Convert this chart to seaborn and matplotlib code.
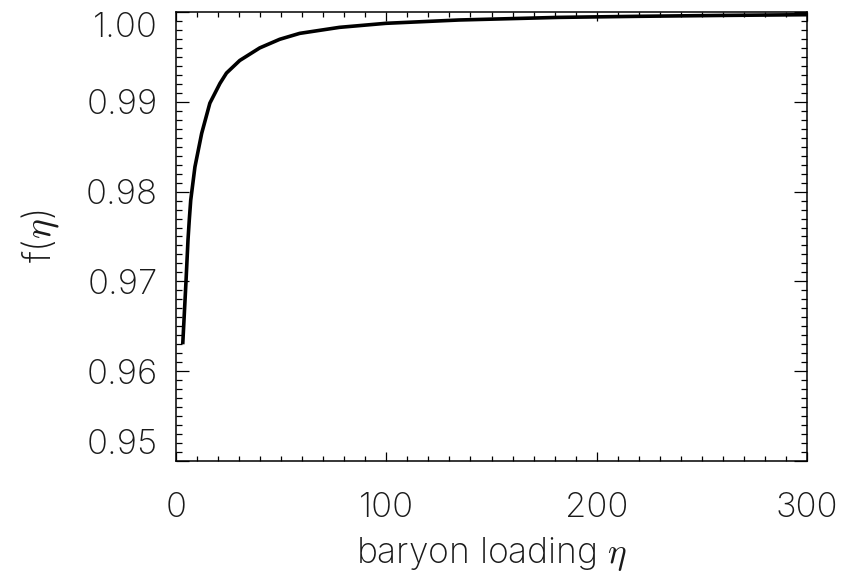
import matplotlib
matplotlib.use("Agg")
import matplotlib.pyplot as plt
from matplotlib.ticker import MultipleLocator, FixedLocator
import seaborn as sns
import pandas as pd

# Baryon loading values and the corresponding f(eta)
eta = [3.2, 4.74, 5.7, 6.3, 7.0, 9.0, 12.2, 16.1, 20.9, 24.0, 30.3, 39.8,
       49.3, 58.8, 77.7, 99.8, 134.6, 182.0, 220.0, 260.0, 300.0]
f_eta = [0.9630, 0.96994, 0.9746, 0.9768, 0.97904, 0.98275, 0.98648, 0.98985,
         0.99205, 0.9932, 0.99460, 0.99600, 0.99696, 0.99762, 0.99829, 0.99874,
         0.99911, 0.99940, 0.99952, 0.99962, 0.99970]

x_ticks = [0, 100, 200, 300]
x_tick_labels = ["0", "100", "200", "300"]
y_ticks = [0.95, 0.96, 0.97, 0.98, 0.99, 1.00]
y_tick_labels = ["0.95", "0.96", "0.97", "0.98", "0.99", "1.00"]

sns.set_theme(style="ticks")
plt.rcParams["font.family"] = ["Inter", "DejaVu Sans"]
plt.rcParams["font.weight"] = 200
plt.rcParams["mathtext.fontset"] = "cm"

df = pd.DataFrame({"eta": eta, "f": f_eta})

fig = plt.figure(figsize=(8.47, 5.75), dpi=100)
ax = fig.add_axes([176 / 847, 1 - 461 / 575, 631 / 847, 449 / 575])

sns.lineplot(data=df, x="eta", y="f", ax=ax, color="black", linewidth=2.6,
             sort=True, estimator=None)
for line in ax.get_lines():
    line.set_solid_joinstyle("round")
    line.set_solid_capstyle("butt")

ax.set_xlim(0, 300)
ax.set_ylim(0.95, 1.00)

ax.xaxis.set_major_locator(FixedLocator(x_ticks))
ax.xaxis.set_minor_locator(MultipleLocator(10))
ax.yaxis.set_major_locator(FixedLocator(y_ticks))
ax.yaxis.set_minor_locator(MultipleLocator(0.001))
ax.set_xticklabels(x_tick_labels)
ax.set_yticklabels(y_tick_labels)

text_color = "#1a1a1a"
ax.tick_params(axis="both", which="both", direction="in", top=True, right=True,
               color="black", width=0.9)
ax.tick_params(axis="x", which="major", length=6.5, pad=22, labelsize=25,
               labelcolor=text_color)
ax.tick_params(axis="x", which="minor", length=3.3)
ax.tick_params(axis="y", which="major", length=9.4, pad=13, labelsize=25,
               labelcolor=text_color)
ax.tick_params(axis="y", which="minor", length=4.5)

for lab in ax.get_xticklabels() + ax.get_yticklabels():
    lab.set_fontweight(200)

# keep the end labels of the y axis inside the frame height
ylabs = ax.get_yticklabels()
ylabs[0].set_va("bottom")
ylabs[-1].set_va("top")

for sp in ax.spines.values():
    sp.set_visible(True)
    sp.set_linewidth(1.1)
    sp.set_color("black")

ax.set_xlabel(r"baryon loading $\eta$", labelpad=8, fontsize=25.5,
              fontweight=200, color=text_color)
ax.set_ylabel(r"f($\eta$)", labelpad=18, fontsize=27, fontweight=200,
              color=text_color)

fig.savefig("out.png", dpi=100, facecolor="white")
